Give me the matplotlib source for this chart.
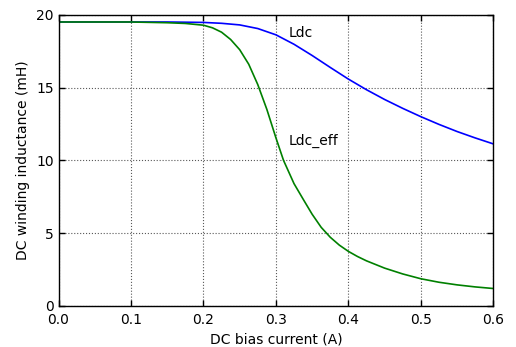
import matplotlib
matplotlib.use("Agg")
import matplotlib.pyplot as plt

# Ldc (blue)
ldc_x = [0.0, 0.05, 0.1, 0.15, 0.2, 0.225, 0.25, 0.275, 0.3, 0.325, 0.35, 0.375,
         0.4, 0.425, 0.45, 0.475, 0.5, 0.525, 0.55, 0.575, 0.6]
ldc_y = [19.5, 19.5, 19.5, 19.5, 19.47, 19.41, 19.3, 19.05, 18.62, 17.97, 17.2, 16.38,
         15.58, 14.85, 14.18, 13.57, 13.0, 12.47, 11.98, 11.54, 11.13]

# Ldc_eff (green)
eff_x = [0.0, 0.05, 0.1, 0.15, 0.175, 0.2, 0.2125, 0.225, 0.2375, 0.25, 0.2625, 0.275,
         0.2875, 0.3, 0.3105, 0.325, 0.338, 0.35, 0.3625, 0.375, 0.3875, 0.4, 0.4125,
         0.425, 0.45, 0.475, 0.5, 0.525, 0.55, 0.575, 0.6]
eff_y = [19.5, 19.5, 19.5, 19.45, 19.4, 19.28, 19.1, 18.8, 18.3, 17.6, 16.6, 15.2,
         13.5, 11.55, 10.0, 8.4, 7.3, 6.3, 5.4, 4.72, 4.18, 3.75, 3.4,
         3.1, 2.6, 2.2, 1.87, 1.63, 1.45, 1.31, 1.2]

x_ticks = [0.0, 0.1, 0.2, 0.3, 0.4, 0.5, 0.6]
y_ticks = [0, 5, 10, 15, 20]

fig = plt.figure(figsize=(5.16, 3.47), dpi=100, facecolor="white")
ax = fig.add_axes([0.1134, 0.1182, 0.956 - 0.1134, 0.9576 - 0.1182])

ax.plot(ldc_x, ldc_y, color="blue", lw=1.2)
ax.plot(eff_x, eff_y, color="green", lw=1.2)

ax.text(0.318, 18.75, "Ldc", fontsize=10, va="center", ha="left")
ax.text(0.318, 11.35, "Ldc_eff", fontsize=10, va="center", ha="left")

ax.set_xlim(0, 0.6)
ax.set_ylim(0, 20)
ax.set_xticks(x_ticks)
ax.set_xticklabels([f"{t:.1f}" for t in x_ticks])
ax.set_yticks(y_ticks)
ax.tick_params(direction="in", top=True, right=True, labelsize=10, length=4, width=1)
ax.tick_params(axis="x", pad=5)
ax.grid(True, color="0.35", linestyle=":", linewidth=0.8)
for s in ax.spines.values():
    s.set_linewidth(1.0)
    s.set_color("black")

ax.set_xlabel("DC bias current (A)", fontsize=10)
ax.set_ylabel("DC winding inductance (mH)", fontsize=10)

fig.savefig("out.png", dpi=100, facecolor="white")
